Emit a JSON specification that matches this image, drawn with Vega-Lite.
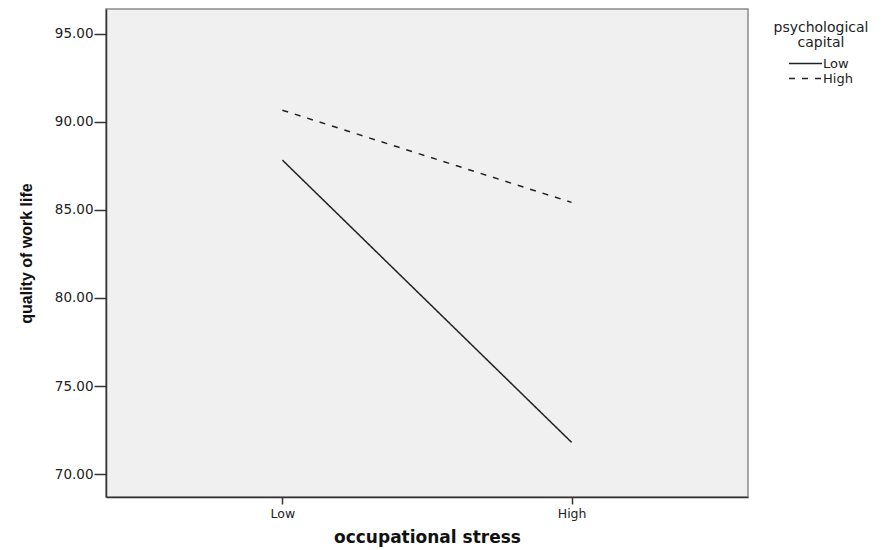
{
  "$schema": "https://vega.github.io/schema/vega-lite/v6.json",
  "width": 642,
  "height": 488,
  "autosize": "none",
  "padding": {"left": 106, "top": 9, "right": 141, "bottom": 53},
  "background": "white",
  "config": {
    "view": {"fill": "#f0f0f0", "stroke": "#8a8a8a", "strokeWidth": 1.5},
    "axis": {"grid": false, "domainColor": "#333333", "tickColor": "#333333", "labelColor": "#222222", "titleColor": "#111111", "domainWidth": 1.5, "tickWidth": 1.5}
  },
  "data": {
    "values": [
      {"stress": "Low", "capital": "Low", "qwl": 87.82},
      {"stress": "High", "capital": "Low", "qwl": 71.81},
      {"stress": "Low", "capital": "High", "qwl": 90.65},
      {"stress": "High", "capital": "High", "qwl": 85.42}
    ]
  },
  "mark": {"type": "line", "color": "#222222", "strokeWidth": 1.5},
  "encoding": {
    "x": {
      "field": "stress",
      "type": "ordinal",
      "sort": ["Low", "High"],
      "scale": {"type": "point", "padding": 0.61},
      "axis": {
        "title": "occupational stress",
        "labelAngle": 0,
        "tickSize": 7,
        "labelFont": "DejaVu Sans",
        "labelFontSize": 12.5,
        "labelPadding": 3,
        "titleFont": "DejaVu Sans",
        "titleFontSize": 17,
        "titleFontWeight": "bold",
        "titlePadding": 10
      }
    },
    "y": {
      "field": "qwl",
      "type": "quantitative",
      "scale": {"domain": [68.71, 96.39], "nice": false, "zero": false},
      "axis": {
        "title": "quality of work life",
        "values": [70, 75, 80, 85, 90, 95],
        "format": ".2f",
        "tickSize": 12,
        "labelFont": "DejaVu Sans",
        "labelFontSize": 13.5,
        "labelPadding": 1,
        "titleFont": "Liberation Sans",
        "titleFontSize": 16,
        "titleFontWeight": "bold",
        "titlePadding": 20
      }
    },
    "strokeDash": {
      "field": "capital",
      "type": "nominal",
      "sort": ["Low", "High"],
      "scale": {"domain": ["Low", "High"], "range": [[1, 0], [6, 7]]},
      "legend": {
        "title": ["psychological", "capital"],
        "orient": "none",
        "legendX": 668,
        "legendY": 12,
        "titleFont": "DejaVu Sans",
        "titleFontSize": 14,
        "titleFontWeight": "normal",
        "titleColor": "#222222",
        "titleAlign": "center",
        "titleAnchor": "middle",
        "titleLineHeight": 15,
        "titlePadding": 7,
        "labelFont": "DejaVu Sans",
        "labelFontSize": 13,
        "labelColor": "#222222",
        "labelOffset": 11,
        "symbolType": "M-5.5,0H5.5",
        "symbolSize": 36,
        "symbolFillColor": "transparent",
        "symbolStrokeColor": "#222222",
        "symbolStrokeWidth": 1.5,
        "symbolOffset": 10,
        "rowPadding": 1
      }
    }
  }
}
